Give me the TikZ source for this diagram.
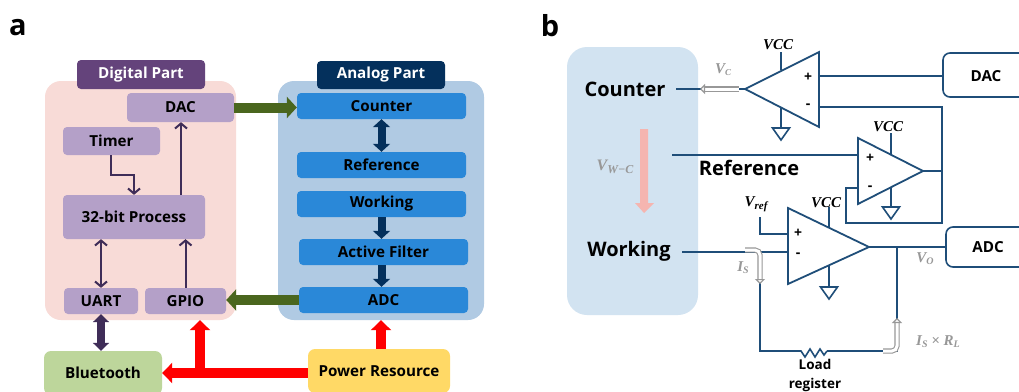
\documentclass[tikz,border=0pt]{standalone}
\usepackage{fontspec}
\setmainfont{Open Sans}
\newfontfamily\labfont{Liberation Serif}
\usetikzlibrary{arrows.meta,calc}
\definecolor{panelD}{HTML}{F8DBD7}
\definecolor{panelA}{HTML}{B0CAE3}
\definecolor{panelB}{HTML}{D2E3F1}
\definecolor{lilac}{HTML}{B4A0C8}
\definecolor{plum}{HTML}{64437B}
\definecolor{darkplum}{HTML}{3F2D58}
\definecolor{azure}{HTML}{2A88D8}
\definecolor{navy}{HTML}{04305C}
\definecolor{moss}{HTML}{4A661E}
\definecolor{sun}{HTML}{FFD966}
\definecolor{leaf}{HTML}{BDD69B}
\definecolor{wire}{HTML}{1F4E79}
\definecolor{pinkarrow}{HTML}{F5B5B0}
\definecolor{lab}{HTML}{989898}
\tikzset{
  box/.style={rounded corners=4pt,inner sep=0pt,font=\fontsize{15.2}{17}\selectfont\bfseries,text=black},
  panel/.style={rounded corners=16pt,inner sep=0pt},
  digi/.style={box,fill=lilac},
  ana/.style={box,fill=azure},
  head/.style={rounded corners=4pt,inner sep=0pt,text=white,font=\fontsize{15.2}{17}\selectfont\bfseries},
  thinarrow/.style={draw=darkplum,line width=2pt,arrows={-Straight Barb[length=5pt,width=12pt,line width=2pt]}},
  thintwo/.style={draw=darkplum,line width=2pt,arrows={Straight Barb[length=5pt,width=12pt,line width=2pt]-Straight Barb[length=5pt,width=12pt,line width=2pt]}},
  greenarrow/.style={draw=moss,line width=10pt,arrows={-Triangle[length=10pt,width=21pt]}},
  redarrow/.style={draw=red,line width=9.5pt,arrows={-Triangle[length=10pt,width=20pt]}},
  navyarrow/.style={draw=navy,line width=8pt,arrows={-Triangle[length=8pt,width=17pt]}},
  navytwo/.style={draw=navy,line width=8pt,arrows={Triangle[length=8pt,width=17pt]-Triangle[length=8pt,width=17pt]}},
  plumtwo/.style={draw=darkplum,line width=8pt,arrows={Triangle[length=8pt,width=16pt]-Triangle[length=8pt,width=16pt]}},
  ln/.style={draw=wire,line width=1.6pt},
  amp/.style={draw=wire,line width=1.8pt,fill=white,line join=miter},
  hollow/.style={draw=lab,line width=1.1pt,double=white,double distance=3pt,rounded corners=3pt,
    arrows={-Triangle[length=5pt,width=10pt,fill=white,line width=1.1pt]}},
  big/.style={inner sep=0pt,font=\fontsize{20}{22}\selectfont\bfseries},
  sign/.style={inner sep=0pt,font=\fontsize{14}{14}\selectfont\bfseries},
  vcc/.style={inner sep=0pt,font=\labfont\fontsize{15}{15}\selectfont\bfseries\itshape},
  glab/.style={inner sep=0pt,text=lab,font=\labfont\fontsize{15}{15}\selectfont\bfseries\itshape},
  outbox/.style={draw=wire,line width=1.6pt,rounded corners=7pt,fill=white,inner sep=0pt},
}
\begin{document}
\begin{tikzpicture}[x=1pt,y=-1pt]
\useasboundingbox (0,0) rectangle (1019,391);
\fill[white] (0,0) rectangle (1019,391);
% panel labels
\node[inner sep=0pt,font=\fontsize{29}{30}\selectfont\bfseries] (la) at (18,28) {a};
\node[inner sep=0pt,font=\fontsize{29}{30}\selectfont\bfseries] (lb) at (550,26) {b};
% --- part a
\node[panel,fill=panelD,minimum width=191pt,minimum height=239pt] (digital) at (140.5,200.5) {};
\node[panel,fill=panelA,minimum width=206pt,minimum height=239pt] (analog) at (381,200.5) {};
\node[head,fill=plum,minimum width=128pt,minimum height=29pt] (dpart) at (141,74.5) {Digital Part};
\node[head,fill=navy,minimum width=128pt,minimum height=28pt] (apart) at (381,75) {Analog Part};
\node[digi,minimum width=107pt,minimum height=29pt] (dac) at (180.5,107.5) {DAC};
\node[digi,minimum width=97pt,minimum height=28pt] (timer) at (111.5,141) {Timer};
\node[digi,minimum width=142pt,minimum height=44pt] (proc) at (134,217) {32-bit Process};
\node[digi,minimum width=74pt,minimum height=26pt] (uart) at (101,301) {UART};
\node[digi,minimum width=81pt,minimum height=26pt] (gpio) at (185.5,301) {GPIO};
\node[box,fill=leaf,rounded corners=7pt,minimum width=118pt,minimum height=44pt] (bt) at (103,373) {Bluetooth};
\node[ana,minimum width=169pt,minimum height=26pt] (counter) at (381.5,106) {Counter};
\node[ana,minimum width=169pt,minimum height=26pt] (reference) at (381.5,165) {Reference};
\node[ana,minimum width=169pt,minimum height=26pt] (working) at (381.5,204) {Working};
\node[ana,minimum width=169pt,minimum height=26pt] (active) at (383.5,252) {Active Filter};
\node[ana,minimum width=169pt,minimum height=26pt] (adc) at (383.5,300) {ADC};
\node[box,fill=sun,rounded corners=7pt,minimum width=142pt,minimum height=44pt] (power) at (379,371) {Power Resource};
\coordinate (redj) at (200,373);
\coordinate (t1) at (111,175);
\coordinate (t2) at (134,175);
\coordinate (pd) at (181,200);
% connectors a
\draw[greenarrow] (dac.east) -- (dac.east -| counter.west);
\draw[greenarrow] (adc.west) -- (adc.west -| gpio.east);
\draw[navytwo] (counter.south) -- (reference.north);
\draw[navyarrow] (working.south) -- (working.south |- active.north);
\draw[navyarrow] (working.south |- active.south) -- (working.south |- adc.north);
\draw[thinarrow] (timer.south -| t1) -- (t1) -- (t2) -- (t2 |- proc.north);
\draw[thinarrow] (pd |- proc.north) -- (pd |- dac.south);
\draw[thinarrow] (gpio.north) -- (gpio.north |- proc.south);
\draw[thintwo] (uart.north) -- (uart.north |- proc.south);
\draw[plumtwo] (uart.south) -- (uart.south |- bt.north);
\draw[redarrow] (power.west |- redj) -- (bt.east |- redj);
\draw[redarrow] (redj) -- (redj |- digital.south);
\draw[redarrow] (analog.south |- power.north) -- (analog.south);
% --- part b
\node[panel,fill=panelB,rounded corners=20pt,minimum width=131pt,minimum height=268pt] (cell) at (632.5,181) {};
\node[big] (cnt) at (625,89.5) {Counter};
\node[big] (wrk) at (629,251) {Working};
\node[big] (ref) at (749,168) {Reference};
\node[glab,font=\labfont\fontsize{16}{16}\selectfont\bfseries\itshape] (vwc) at (615,167) {V\raisebox{-3pt}{\fontsize{12}{12}\selectfont W−C}};
\fill[pinkarrow] (640,129) -- (648,129) -- (648,203) -- (654,203) -- (644,213) -- (635,203) -- (640,203) -- cycle;
\node[outbox,minimum width=100pt,minimum height=44pt] (dacb) at (993,75) {};
\node[outbox,minimum width=100pt,minimum height=40pt] (adcb) at (996,247) {};
\node[inner sep=0pt,font=\fontsize{15.2}{17}\selectfont\bfseries] (dactxt) at (986,76) {DAC};
\node[inner sep=0pt,font=\fontsize{15.2}{17}\selectfont\bfseries] (adctxt) at (988,247) {ADC};
% op-amp anchors
\coordinate (a1) at (745,89); \coordinate (p1) at (819,76); \coordinate (m1) at (819,107);
\coordinate (a2) at (923,171); \coordinate (p2) at (858,155); \coordinate (m2) at (858,188);
\coordinate (a3) at (869,247); \coordinate (p3) at (788,234); \coordinate (m3) at (788,252);
\coordinate (fb1) at (942,107); \coordinate (fb2) at (942,223); \coordinate (fb3) at (846,223); \coordinate (fb4) at (846,188);
\coordinate (vr1) at (760,217); \coordinate (vr2) at (760,234);
\coordinate (cnE) at (676,89); \coordinate (rfE) at (672,155); \coordinate (wkE) at (682,252);
\coordinate (out) at (897,247); \coordinate (rr) at (897,351); \coordinate (rl) at (760,351); \coordinate (rt) at (760,252);
\coordinate (r1) at (797,351); \coordinate (r2) at (827,351);
% wires
\draw[ln] (dacb.west |- p1) -- (p1);
\draw[ln] (m1) -- (fb1) -- (fb2) -- (fb3) -- (fb4) -- (m2);
\draw[ln] (a2) -- (a2 -| fb1);
\draw[ln] (rfE) -- (p2);
\draw[ln] (cnE) -- (a1);
\draw[ln] (wkE) -- (m3);
\draw[ln] (vr1) -- (vr2) -- (p3);
\draw[ln] (a3) -- (a3 -| adcb.west);
\draw[ln] (out) -- (rr) -- (r2);
\draw[ln] (rt) -- (rl) -- (r1);
\draw[ln] (r1) -- ++(4,0) -- ++(4,6) -- ++(5,-8) -- ++(5,8) -- ++(5,-8) -- ++(4,6) -- (r2);
% supply and ground
\foreach \x/\ya/\yb in {781/52/70,891/133/155,829/207/227}{\draw[ln] (\x,\ya) -- (\x,\yb);}
\foreach \x/\ya/\yb in {781/108/128,891/187/207,829/265/287}{
  \draw[ln] (\x,\ya) -- (\x,\yb);
  \draw[ln,line join=miter] (\x-8.5,\yb) -- (\x+8.5,\yb) -- (\x,\yb+12) -- cycle;}
% op-amps
\draw[amp] (a1) -- (819,52) -- (819,127) -- cycle;
\draw[amp] (a2) -- (858,138) -- (858,204) -- cycle;
\draw[amp] (a3) -- (788,208) -- (788,284) -- cycle;
\node[sign] (s1) at (808,77) {+}; \node[sign] (s2) at (808,106) {-};
\node[sign] (s3) at (870,158) {+}; \node[sign] (s4) at (870,188) {-};
\node[sign] (s5) at (798,233) {+}; \node[sign] (s6) at (798,255) {-};
% hollow arrows
\coordinate (h1s) at (739,89); \coordinate (h1e) at (700,89);
\draw[hollow,rounded corners=0pt] (h1s) -- (h1e);
\coordinate (h2s) at (745,250); \coordinate (h2c) at (760,250); \coordinate (h2e) at (760,284);
\draw[hollow,rounded corners=5pt] (h2s) -- (h2c) -- (h2e);
\coordinate (h3s) at (883,351); \coordinate (h3c) at (897,351); \coordinate (h3e) at (897,318);
\draw[hollow,rounded corners=5pt] (h3s) -- (h3c) -- (h3e);
% texts
\node[vcc] (v1) at (778,45) {VCC};
\node[vcc] (v2) at (888,127) {VCC};
\node[vcc] (v3) at (826,203) {VCC};
\node[vcc] (vref) at (756,204) {V\raisebox{-3pt}{\fontsize{11}{11}\selectfont ref}};
\node[glab] (vc) at (723,70) {V\raisebox{-2pt}{\fontsize{9}{9}\selectfont C}};
\node[glab] (is) at (743,268) {I\raisebox{-2pt}{\fontsize{10}{10}\selectfont S}};
\node[glab] (vo) at (925,259) {V\raisebox{-2pt}{\fontsize{10}{10}\selectfont O}};
\node[glab] (isrl) at (938,342) {I\raisebox{-2pt}{\fontsize{10}{10}\selectfont S} × R\raisebox{-2pt}{\fontsize{10}{10}\selectfont L}};
\node[inner sep=0pt,font=\fontsize{13.5}{19}\selectfont\bfseries,align=center] (load) at (815,375) {Load\\register};
\end{tikzpicture}
\end{document}
